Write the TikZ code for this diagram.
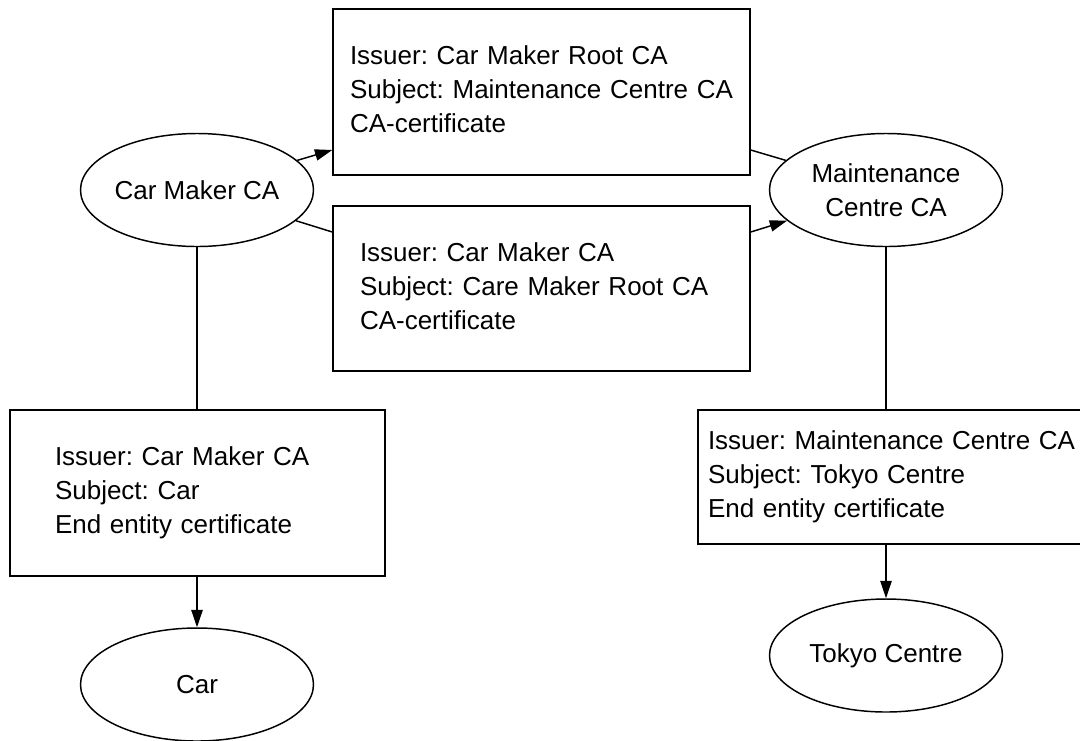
\documentclass[tikz,border=0pt]{standalone}
\usepackage{fontspec}
\setmainfont{Liberation Sans}
\usetikzlibrary{shapes.geometric,arrows.meta}

% certificate text: unbreakable, left-aligned lines
\newcommand\certlines[1]{\begin{tabular}{@{}l@{}}#1\end{tabular}}

\tikzset{
  entity/.style={draw, ellipse, line width=1.1pt, inner sep=0pt,
    minimum width=174.75pt, minimum height=84.75pt, align=center},
  cert/.style={draw, rectangle, line width=1.1pt, align=left},
  link/.style={line width=1.1pt},
  arr/.style={link, -{Triangle[length=13pt,width=8.5pt]}},
}

\begin{document}
\begin{tikzpicture}[x=0.75pt, y=-0.75pt,
  every node/.style={font=\fontsize{19.5pt}{25.5pt}\selectfont\frenchspacing}]
  \fill[white] (0,0) rectangle (1080,740);
  \useasboundingbox (0,0) rectangle (1080,740);

  % entities
  \node[entity] (cm) at (197,190) {Car Maker CA};
  \node[entity] (mc) at (886,190) {Maintenance\\Centre CA};
  \node[entity] (car) at (197,684.5) {Car};
  \node[entity] (tc) at (886,655.5) {Tokyo Centre};

  % certificates
  \node[cert, minimum height=124.5pt, inner xsep=12.75pt, text width=287.25pt]
    (b1) at (541.5,92)
    {\certlines{Issuer: Car Maker Root CA\\Subject: Maintenance Centre CA\\CA-certificate}};
  \node[cert, minimum height=123.75pt, inner xsep=20.25pt, text width=272.25pt]
    (b2) at (541.5,288.5)
    {\certlines{Issuer: Car Maker CA\\Subject: Care Maker Root CA\\CA-certificate}\par\vspace*{7.5pt}};
  \node[cert, minimum height=124.5pt, inner xsep=33.75pt, text width=213.75pt]
    (lb) at (197.5,493)
    {\certlines{Issuer: Car Maker CA\\Subject: Car\\End entity certificate}};
  \node[cert, minimum height=100.5pt, inner xsep=7.5pt, text width=277.5pt]
    (rb) at (893,477)
    {\certlines{Issuer: Maintenance Centre CA\\Subject: Tokyo Centre\\End entity certificate}};

  % attachment points on the certificate sides
  \coordinate (b1w) at (b1.west |- 0,150);
  \coordinate (b1e) at (b1.east |- 0,150);
  \coordinate (b2w) at (b2.west |- 0,232);
  \coordinate (b2e) at (b2.east |- 0,232);

  % cross certification
  \draw[arr] (cm) -- (b1w);
  \draw[link] (b1e) -- (mc);
  \draw[link] (cm) -- (b2w);
  \draw[arr] (b2e) -- (mc);

  % end entity chains
  \draw[link] (cm.south) -- (cm.south |- lb.north);
  \draw[arr] (car.north |- lb.south) -- (car.north);
  \draw[link] (mc.south) -- (mc.south |- rb.north);
  \draw[arr] (tc.north |- rb.south) -- (tc.north);
\end{tikzpicture}
\end{document}
